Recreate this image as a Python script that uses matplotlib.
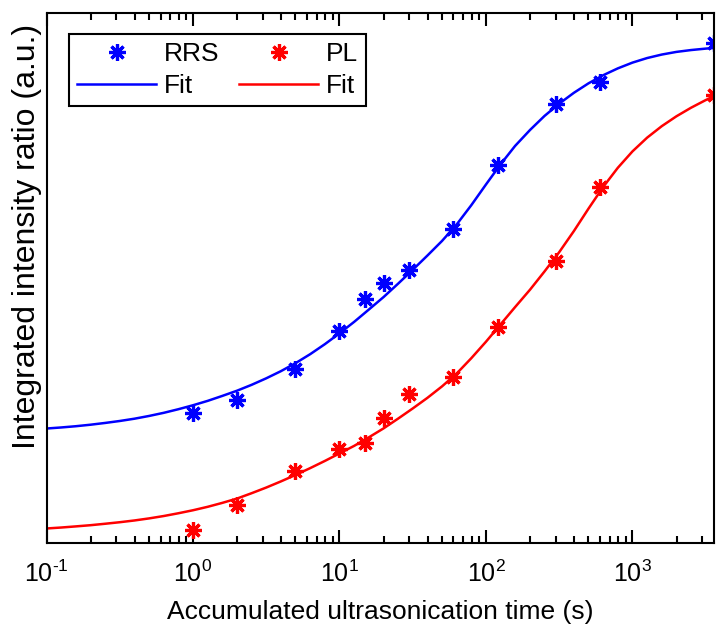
import matplotlib
matplotlib.use("Agg")
import matplotlib.pyplot as plt
import numpy as np
from matplotlib.ticker import LogLocator, NullFormatter, NullLocator, FuncFormatter

plt.rcParams['font.family'] = ['Liberation Sans', 'DejaVu Sans']
plt.rcParams['mathtext.fontset'] = 'custom'
plt.rcParams['mathtext.rm'] = 'Liberation Sans'
plt.rcParams['mathtext.it'] = 'Liberation Sans:italic'
plt.rcParams['mathtext.bf'] = 'Liberation Sans:bold'

# measured data (time in s, intensity ratio in a.u.)
time_s = [1, 2, 5, 10, 15, 20, 30, 60, 120, 300, 600, 3600]
rrs = [0.246, 0.270, 0.328, 0.400, 0.460, 0.491, 0.516, 0.592, 0.713, 0.828, 0.869, 0.944]
pl = [0.024, 0.071, 0.136, 0.178, 0.188, 0.235, 0.281, 0.314, 0.408, 0.532, 0.672, 0.845]

# fit curves
fit_t = [0.1, 0.126, 0.158, 0.2, 0.251, 0.316, 0.398, 0.501, 0.631, 0.794,
         1, 1.26, 1.58, 2, 2.51, 3.16, 3.98, 5.01, 6.31, 7.94,
         10, 12.6, 15.8, 20, 25.1, 31.6, 39.8, 50.1, 63.1, 79.4,
         100, 126, 158, 200, 251, 316, 398, 501, 631, 794,
         1000, 1259, 1585, 1995, 2512, 3162, 3600]
rrs_fit = [0.2160, 0.2180, 0.2203, 0.2232, 0.2265, 0.2302, 0.2345, 0.2397, 0.2456, 0.2524,
           0.2599, 0.2682, 0.2774, 0.2874, 0.2984, 0.3107, 0.3242, 0.3393, 0.3563, 0.3751,
           0.3956, 0.4173, 0.4401, 0.4641, 0.4892, 0.5154, 0.5423, 0.5699, 0.6011, 0.6374,
           0.6765, 0.7148, 0.7492, 0.7794, 0.8058, 0.8289, 0.8494, 0.8673, 0.8826, 0.8955,
           0.9064, 0.9150, 0.9216, 0.9266, 0.9301, 0.9328, 0.9340]
pl_fit = [0.0274, 0.0292, 0.0313, 0.0336, 0.0363, 0.0392, 0.0425, 0.0464, 0.0509, 0.0561,
          0.0618, 0.0683, 0.0756, 0.0839, 0.0939, 0.1046, 0.1162, 0.1284, 0.1413, 0.1548,
          0.1690, 0.1833, 0.1991, 0.2163, 0.2346, 0.2538, 0.2738, 0.2955, 0.3198, 0.3487,
          0.3798, 0.4128, 0.4451, 0.4781, 0.5124, 0.5487, 0.5885, 0.6309, 0.6718, 0.7079,
          0.7389, 0.7648, 0.7865, 0.8051, 0.8213, 0.8357, 0.8430]

x_label = "Accumulated ultrasonication time (s)"
y_label = "Integrated intensity ratio (a.u.)"

fig = plt.figure(figsize=(7.19, 6.25), dpi=100)
ax = fig.add_axes([0.0647, 0.1312, 0.9283, 0.848])

asterisk = (8, 2, 0)
h1, = ax.plot(time_s, rrs, linestyle='none', marker=asterisk, color=(0, 0, 1),
              markersize=12, markeredgewidth=2.3, label='RRS')
h2, = ax.plot(fit_t, rrs_fit, color=(0, 0, 1), linewidth=1.8, label='Fit')
h3, = ax.plot(time_s, pl, linestyle='none', marker=asterisk, color=(1, 0, 0),
              markersize=12, markeredgewidth=2.3, label='PL')
h4, = ax.plot(fit_t, pl_fit, color=(1, 0, 0), linewidth=1.8, label='Fit')

ax.set_xscale('log')
ax.set_xlim(0.1, 3600)
ax.set_ylim(0, 1)
ax.xaxis.set_major_locator(LogLocator(base=10, numticks=10))
ax.xaxis.set_minor_locator(LogLocator(base=10, subs=range(2, 10), numticks=20))
ax.xaxis.set_minor_formatter(NullFormatter())


def fmt(v, pos):
    e = int(round(np.log10(v)))
    if e < 0:
        return r'$\mathdefault{10^{\text{-}%d}}$' % (-e)
    return r'$\mathdefault{10^{%d}}$' % e


ax.xaxis.set_major_formatter(FuncFormatter(fmt))
ax.yaxis.set_major_locator(NullLocator())
ax.yaxis.set_minor_locator(NullLocator())

ax.tick_params(axis='x', which='both', direction='in', top=True, bottom=True,
               labelsize=18, width=1.5, pad=13)
ax.tick_params(axis='x', which='major', length=9.5)
ax.tick_params(axis='x', which='minor', length=5)
for s in ax.spines.values():
    s.set_linewidth(1.5)

ax.set_xlabel(x_label, fontsize=19, labelpad=9)
ax.set_ylabel(y_label, fontsize=23)
ax.yaxis.set_label_coords(-0.007, 0.579)

leg = ax.legend([h1, h2, h3, h4], ['RRS', 'Fit', 'PL', 'Fit'], ncol=2,
                loc='upper left', bbox_to_anchor=(0.034, 0.960), borderaxespad=0,
                fontsize=19, frameon=True, fancybox=False, handlelength=3.0,
                handletextpad=0.3, columnspacing=0.73, labelspacing=0.3,
                borderpad=0.3, numpoints=1)
leg.get_frame().set_edgecolor('black')
leg.get_frame().set_linewidth(1.5)
leg.get_frame().set_alpha(1)

fig.savefig('out.png', dpi=100)
